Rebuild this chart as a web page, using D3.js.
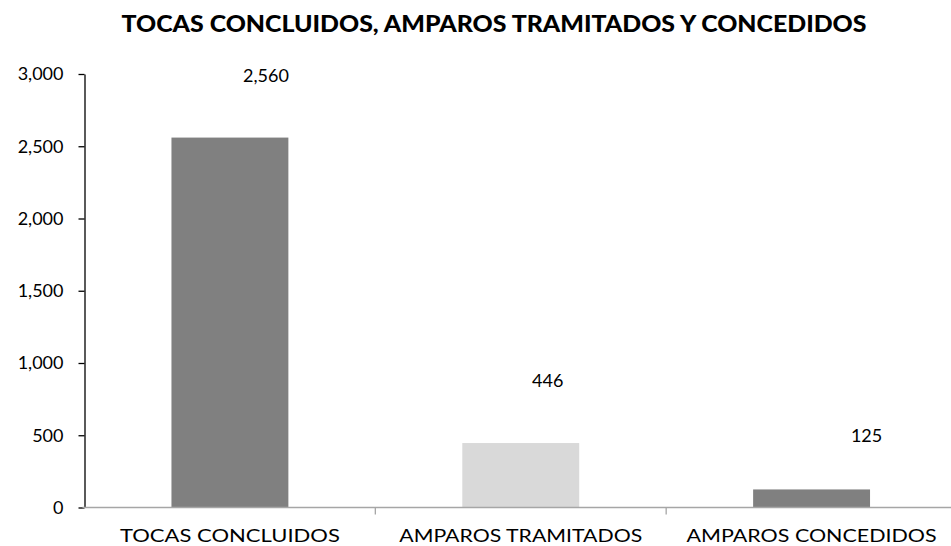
<!DOCTYPE html>
<html>
<head>
<meta charset="utf-8">
<script src="https://cdn.jsdelivr.net/npm/d3@7"></script>
<style>
  html, body { margin: 0; padding: 0; background: #fff; }
  svg { display: block; }
</style>
</head>
<body>
<svg id="chart" width="951" height="546"></svg>
<script>
const title = "TOCAS CONCLUIDOS, AMPAROS TRAMITADOS Y CONCEDIDOS";
const categories = ["TOCAS CONCLUIDOS", "AMPAROS TRAMITADOS", "AMPAROS CONCEDIDOS"];
const values = [2560, 446, 125];
const yTicks = [0, 500, 1000, 1500, 2000, 2500, 3000];

const colors = ["#808080", "#d9d9d9", "#808080"];
// manual label placement (pixel offsets from bar centre / bar top), as in the source
const labelDx = [36, 27, 55];
const labelDy = [-62, -62, -54];

(function () {
const W = 951, H = 546;
const mLeft = 84.5, mRight = 957, mTop = 74, mBottom = 507.5;
const font = "'Lato', 'Open Sans', sans-serif";

const svg = d3.select("#chart");

const x = d3.scaleBand().domain(categories).range([mLeft, mRight]).paddingInner(0).paddingOuter(0);
const y = d3.scaleLinear().domain([0, 3000]).range([mBottom, mTop]);
const barW = x.bandwidth() * 0.402;

// title
svg.append("text")
  .attr("x", 494).attr("y", 32)
  .attr("text-anchor", "middle")
  .attr("font-family", font)
  .attr("font-weight", 900)
  .attr("font-size", 22)
  .attr("textLength", 745)
  .attr("lengthAdjust", "spacingAndGlyphs")
  .attr("fill", "#000")
  .text(title);

// bars
svg.selectAll("rect.bar").data(values).enter().append("rect")
  .attr("class", "bar")
  .attr("x", (d, i) => x(categories[i]) + x.bandwidth() / 2 - barW / 2)
  .attr("width", barW)
  .attr("y", d => y(d))
  .attr("height", d => y(0) - y(d))
  .attr("fill", (d, i) => colors[i]);

// y axis
const yAxis = d3.axisLeft(y).tickValues(yTicks).tickSize(6).tickSizeOuter(0)
  .tickFormat(d3.format(","));
const gy = svg.append("g").attr("transform", `translate(${mLeft},0)`).call(yAxis);
gy.select(".domain").attr("stroke", "#000").attr("stroke-width", 1.3);
gy.selectAll(".tick line").attr("stroke", "#000").attr("stroke-width", 1.3);
gy.selectAll(".tick text")
  .attr("x", -21)
  .attr("font-family", font)
  .attr("font-size", 18)
  .attr("fill", "#000");

// x axis
const xAxis = d3.axisBottom(x).tickSize(0).tickSizeOuter(0);
const gx = svg.append("g").attr("transform", `translate(0,${mBottom})`).call(xAxis);
gx.select(".domain").attr("stroke", "#a6a6a6").attr("stroke-width", 1.5).attr("d", `M${mLeft - 2},0H${W}`);
const lens = [220, 243, 250];
gx.selectAll(".tick text")
  .attr("y", 22)
  .attr("dy", "0.71em")
  .attr("font-family", font)
  .attr("font-size", 18)
  .attr("fill", "#000")
  .attr("textLength", (d, i) => lens[i])
  .attr("lengthAdjust", "spacingAndGlyphs");
// category separators
svg.selectAll("line.sep").data(categories).enter().append("line")
  .attr("class", "sep")
  .attr("x1", d => x(d) + x.bandwidth()).attr("x2", d => x(d) + x.bandwidth())
  .attr("y1", mBottom).attr("y2", mBottom + 7)
  .attr("stroke", "#a6a6a6").attr("stroke-width", 1.3);

// value labels
svg.selectAll("text.val").data(values).enter().append("text")
  .attr("class", "val")
  .attr("x", (d, i) => x(categories[i]) + x.bandwidth() / 2 + labelDx[i])
  .attr("y", (d, i) => y(d) + labelDy[i])
  .attr("dy", "0.35em")
  .attr("text-anchor", "middle")
  .attr("font-family", font)
  .attr("font-size", 18)
  .attr("fill", "#000")
  .text(d => d3.format(",")(d));
})();
</script>
</body>
</html>
